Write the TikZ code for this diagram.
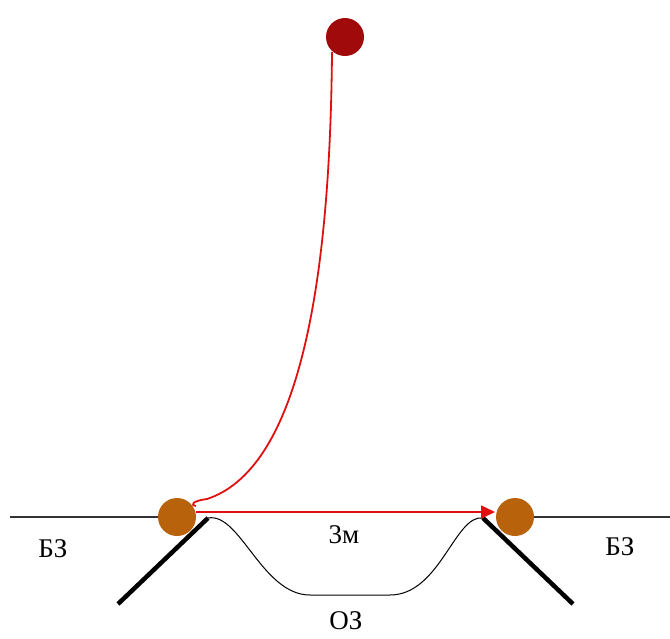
\documentclass[tikz,border=0pt]{standalone}
\usepackage{fontspec}
\setmainfont{Liberation Serif}
\usetikzlibrary{arrows.meta}
\definecolor{ballbrown}{HTML}{B8620C}
\definecolor{balldark}{HTML}{A00A0A}
\definecolor{rope}{HTML}{E01010}
\tikzset{
  ball/.style={circle,minimum size=38pt,inner sep=0pt,fill=ballbrown},
  topball/.style={circle,minimum size=38pt,inner sep=0pt,fill=balldark},
  ground/.style={line width=1.3pt,draw=black!80},
  wall/.style={line width=4.5pt,draw=black},
  ropeline/.style={line width=1.8pt,draw=rope},
  lbl/.style={font=\fontsize{27}{31}\selectfont,inner sep=0pt},
}
\begin{document}
\begin{tikzpicture}[x=1pt,y=-1pt]
\useasboundingbox (0,0) rectangle (670,638);
% ground
\coordinate (gl) at (10,517);
\coordinate (gr) at (670,517);
\node[ball] (L) at (177,517) {};
\node[ball] (R) at (515,517) {};
\node[topball] (T) at (345,37) {};
\draw[ground] (gl) -- (L.west);
\draw[ground] (R.east) -- (gr);
% walls
\coordinate (w1a) at (118,604);
\coordinate (w1b) at (208,518);
\coordinate (w2a) at (483,518);
\coordinate (w2b) at (573,604);
\draw[wall] (w1a) -- (w1b);
\draw[wall] (w2a) -- (w2b);
% dip
\draw[line width=1pt] (w1b) .. controls (240,512) and (262,595) .. (310,595)
  -- (390,595) .. controls (440,595) and (455,514) .. (w2a);
% rope from top ball
\coordinate (rs) at (332,52);
\coordinate (rh) at (196,506);
\draw[ropeline] (rs) .. controls (330,300) and (295,470) .. (207,499)
  .. controls (192,501) and (190,505) .. (rh);
% arrow
\coordinate (a1) at (196,512);
\coordinate (a2) at (495,512);
\draw[ropeline,-{Triangle[length=14pt,width=13pt]}] (a1) -- (a2);
% labels
\node[lbl] (b1) at (53,549) {БЗ};
\node[lbl] (b2) at (620,547) {БЗ};
\node[lbl] (m) at (344,535) {3м};
\node[lbl] (o) at (346,621) {ОЗ};
\end{tikzpicture}
\end{document}
